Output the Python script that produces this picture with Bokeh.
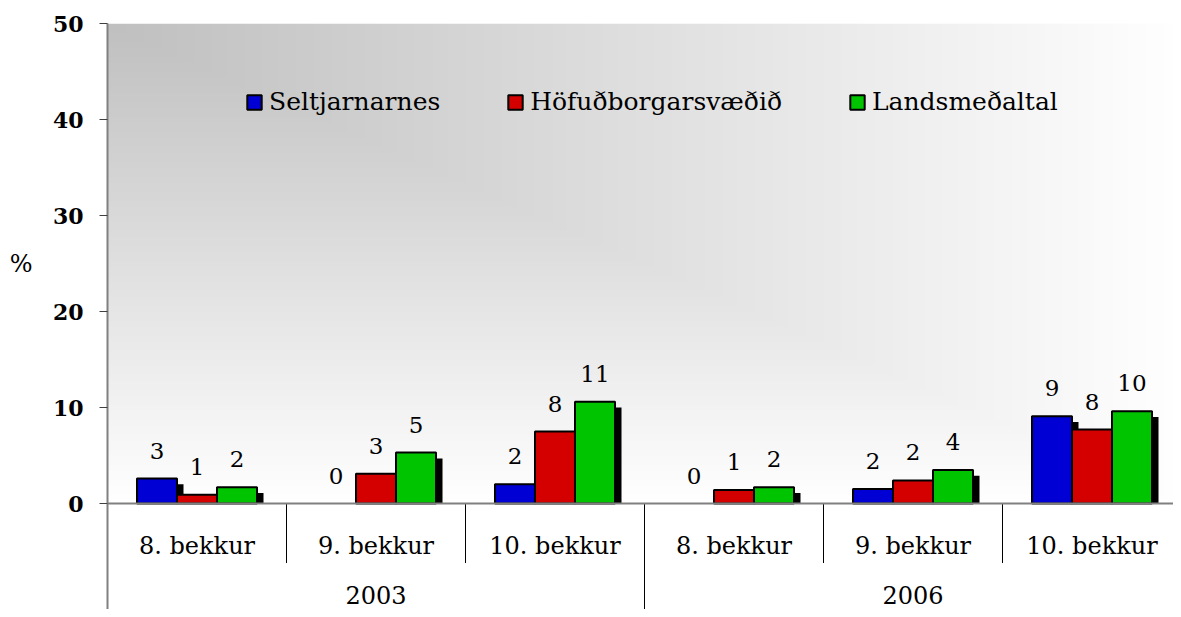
import numpy as np
from bokeh.plotting import figure
from bokeh.models import (ColumnDataSource, Range1d, FixedTicker, Legend, LegendItem,
                          LinearAxis, Span)
from bokeh.transform import dodge
from bokeh.core.properties import value
from bokeh.embed import file_html
from bokeh.resources import INLINE

# ---------------- data ----------------
years = ["2003", "2006"]
grades = ["8. bekkur", "9. bekkur", "10. bekkur"]
series_names = ["Seltjarnarnes", "Höfuðborgarsvæðið", "Landsmeðaltal"]
seltjarnarnes = [2.6, 0.0, 2.0, 0.0, 1.5, 9.1]
hofudborgarsvaedid = [0.9, 3.1, 7.5, 1.4, 2.4, 7.7]
landsmedaltal = [1.7, 5.3, 10.6, 1.7, 3.5, 9.6]
labels_selt = ["3", "0", "2", "0", "2", "9"]
labels_hofud = ["1", "3", "8", "1", "2", "8"]
labels_lands = ["2", "5", "11", "2", "4", "10"]
y_ticks = [0, 10, 20, 30, 40, 50]
y_title = "%"

colors = ["#0000d4", "#d40000", "#00c400"]
FONT = "DejaVu Serif"

n_cat = len(years) * len(grades)
cat_x = np.arange(n_cat) + 0.5
cat_labels = [g for _ in years for g in grades]

# ---------------- figure ----------------
W, H = 1173, 609
left, top = 107, 23
px_per_cat = 179.0
px_per_unit = 9.6
x_end = (W - left) / px_per_cat
y_bottom = 50 - (H - top) / px_per_unit

p = figure(width=W, height=H, x_range=Range1d(0, x_end), y_range=Range1d(y_bottom, 50),
           output_backend="svg", toolbar_location=None, x_axis_location=None,
           min_border_left=left, min_border_right=0, min_border_top=top, min_border_bottom=0)
p.xgrid.visible = False
p.ygrid.visible = False
p.outline_line_color = None
p.background_fill_color = "white"
p.border_fill_color = "white"

ax = p.yaxis[0]
ax.ticker = FixedTicker(ticks=y_ticks)
ax.axis_line_color = "#808080"
ax.axis_line_width = 2
ax.major_tick_in = 0
ax.major_tick_out = 8
ax.major_tick_line_color = "#404040"
ax.minor_tick_line_color = None
ax.major_label_standoff = 16
ax.major_label_text_font = FONT
ax.major_label_text_font_size = "22px"
ax.major_label_text_font_style = "bold"
ax.major_label_text_color = "black"

# "%" title placed beside the axis at the middle of the value range
ax2 = LinearAxis(ticker=FixedTicker(ticks=[25]), major_label_overrides={25: y_title},
                 axis_line_color=None, major_tick_line_color=None, minor_tick_line_color=None,
                 major_tick_in=0, major_tick_out=0, major_label_standoff=17,
                 major_label_text_font=FONT, major_label_text_font_size="24px",
                 major_label_text_color="black")
p.add_layout(ax2, "left")

# background gradient (corner gradient from top-left, grey -> white)
ny, nx = 160, 360
yy, xx = np.mgrid[0:ny, 0:nx]
t = np.maximum(xx / (nx - 1), (ny - 1 - yy) / (ny - 1))
t = np.clip(t, 0, 1)
v = (192 + 63 * t).astype(np.uint32)
img = (255 << 24) | (v << 16) | (v << 8) | v
p.image_rgba(image=[img.astype(np.uint32)], x=0, y=0, dw=n_cat, dh=50)

# ---------------- bars ----------------
bar_w = 0.2235
offsets = [-bar_w, 0.0, bar_w]
vals_all = [seltjarnarnes, hofudborgarsvaedid, landsmedaltal]
labs_all = [labels_selt, labels_hofud, labels_lands]
shadow_dx = 5.5 / px_per_cat
shadow_dy = 0.6

legend_items = []
for name, vals, labs, col, off in zip(series_names, vals_all, labs_all, colors, offsets):
    vals_a = np.array(vals, dtype=float)
    src = ColumnDataSource(dict(
        x=cat_x, val=vals_a, lab=labs,
        shadow_top=np.maximum(vals_a - shadow_dy, 0.0),
        la=[0.0 if v_ == 0 else 1.0 for v_ in vals],
    ))
    p.vbar(x=dodge("x", off + shadow_dx), top="shadow_top", bottom=0,
           width=bar_w + 2 / px_per_cat, source=src, fill_color="black", line_color=None)
    r = p.vbar(x=dodge("x", off), top="val", bottom=0, width=bar_w, source=src,
               fill_color=col, line_color="black", line_width=2, line_alpha="la")
    p.text(x=dodge("x", off), y="val", text="lab", source=src, y_offset=-28,
           text_align="center", text_baseline="middle", text_font=value(FONT),
           text_font_size="23px", text_color="black")
    legend_items.append(LegendItem(label=name, renderers=[r]))

# x "axis" at zero
p.add_layout(Span(location=0, dimension="width", line_color="#808080", line_width=2))

# category separators
inner_b = [1, 2, 4, 5]
outer_b = [3, 6]
p.segment(x0=inner_b, y0=[0] * len(inner_b), x1=inner_b, y1=[-6.2] * len(inner_b),
          line_color="black", line_width=1)
p.segment(x0=outer_b, y0=[0] * len(outer_b), x1=outer_b, y1=[y_bottom] * len(outer_b),
          line_color="black", line_width=1)

# category labels
p.text(x=cat_x, y=[0] * n_cat, text=cat_labels, y_offset=42, text_align="center",
       text_baseline="middle", text_font=value(FONT), text_font_size="24px", text_color="black")
year_x = [np.mean(cat_x[i * len(grades):(i + 1) * len(grades)]) for i in range(len(years))]
p.text(x=year_x, y=[0] * len(years), text=years, y_offset=91, text_align="center",
       text_baseline="middle", text_font=value(FONT), text_font_size="24px", text_color="black")

legend = Legend(items=legend_items, orientation="horizontal", location=(138, 493),
                glyph_width=18, glyph_height=18, label_standoff=6, spacing=66,
                padding=0, margin=0, background_fill_alpha=0, border_line_color=None,
                label_text_font=FONT, label_text_font_size="25px", label_text_color="black")
p.add_layout(legend)

open("out.html", "w").write(file_html(p, INLINE))
